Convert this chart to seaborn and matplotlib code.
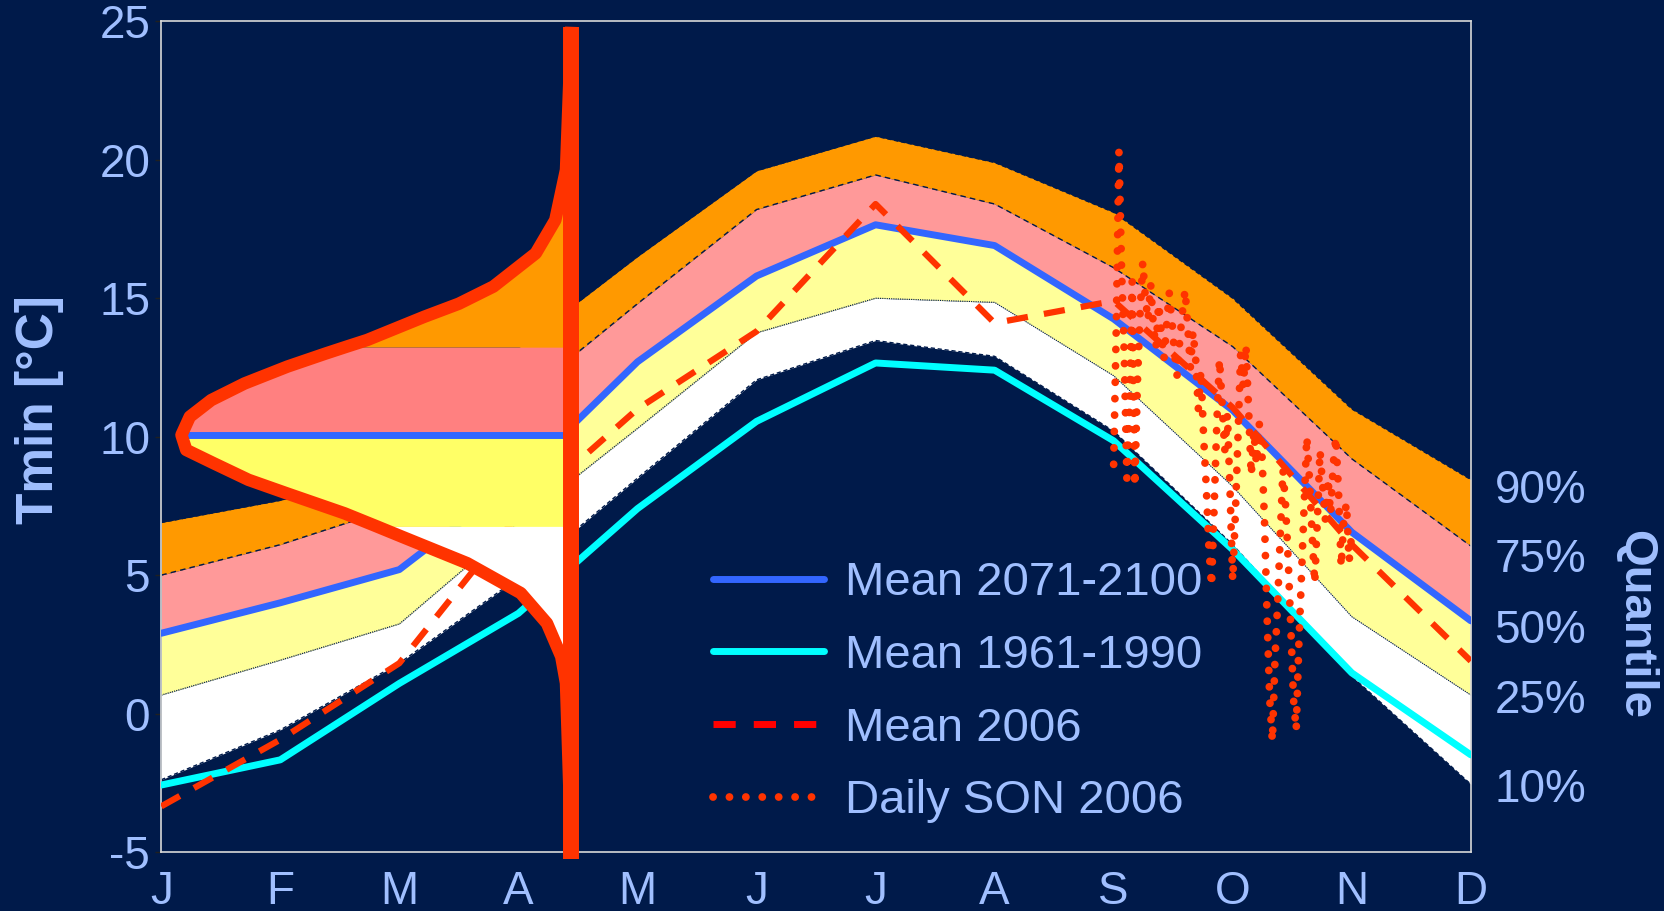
import numpy as np
import matplotlib
matplotlib.use("Agg")
import matplotlib.pyplot as plt
import seaborn as sns
from matplotlib.lines import Line2D

# ---------------- data ----------------
month_labels = ["J", "F", "M", "A", "M", "J", "J", "A", "S", "O", "N", "D"]

# quantile band boundaries of the 2071-2100 distribution (deg C), Jan..Dec
q90 = [6.9, 7.7, 8.8, 13.2, 16.5, 19.6, 20.85, 19.9, 18.1, 15.0, 11.0, 8.45]
q75 = [5.0, 6.1, 7.5, 11.3, 14.8, 18.2, 19.45, 18.4, 16.1, 13.25, 9.2, 6.05]
q50 = [2.85, 3.95, 5.15, 8.45, 12.65, 15.75, 17.6, 16.85, 14.2, 10.9, 6.5, 3.3]
q25 = [0.67, 1.93, 3.24, 6.9, 10.3, 13.75, 15.0, 14.85, 12.2, 8.2, 3.5, 0.67]
q10 = [-2.39, -0.59, 1.82, 4.9, 8.5, 12.05, 13.47, 12.9, 10.2, 6.1, 1.35, -2.55]

mean_2071_2100 = [2.9, 4.0, 5.2, 8.5, 12.7, 15.8, 17.65, 16.9, 14.25, 10.95, 6.55, 3.35]
mean_1961_1990 = [-2.58, -1.67, 1.09, 3.62, 7.4, 10.55, 12.66, 12.4, 9.85, 5.92, 1.47, -1.49]
mean_2006 = [-3.35, -0.94, 1.82, 7.2, 11.0, 13.8, 18.4, 14.1, 14.9, 11.05, 6.1, 1.9]

# daily minimum temperatures, autumn (SON) 2006
son_daily = [9.0, 14.0, 20.3, 16.0, 13.0, 8.5, 11.0, 15.6, 8.2, 12.0,
             14.5, 16.3, 15.0, 14.2, 15.5, 14.0, 13.2, 14.8, 13.8, 12.8,
             14.0, 15.2, 14.2, 13.0, 12.2, 13.5, 14.5, 15.3, 14.0, 12.5,
             13.8, 12.8, 11.0, 12.4, 10.0, 8.2, 6.0, 4.6, 7.5, 10.5,
             12.8, 11.2, 9.5, 10.8, 8.0, 4.8, 7.2, 10.0, 13.0, 11.8,
             13.3, 11.0, 8.6, 10.2, 9.0, 10.5, 9.5, 7.0, 3.5, 0.5,
             -1.0, 2.0, 4.0, 6.5, 8.8, 7.5, 5.5, 3.0, 0.5, -0.6,
             2.5, 5.0, 7.5, 10.0, 8.5, 6.5, 4.7, 7.0, 9.5, 8.2,
             7.0, 8.5, 7.2, 9.0, 10.0, 8.0, 5.3, 7.0, 7.6, 5.5, 6.5]

# sideways probability density curve (temperature, curve position in month units)
pdf_temp = [-5.0, 1.1, 2.06, 3.26, 4.35, 5.43, 6.39, 6.76, 7.23, 7.95, 8.44,
            9.04, 9.52, 10.06, 10.72, 11.32, 11.92, 12.53, 13.0, 13.24, 13.49,
            14.33, 14.8, 15.42, 16.62, 17.82, 19.63, 24.8]
pdf_curve = [3.445, 3.40, 3.36, 3.24, 3.02, 2.57, 2.02, 1.81, 1.54, 1.056, 0.733,
             0.44, 0.21, 0.17, 0.24, 0.42, 0.70, 1.06, 1.38, 1.55, 1.73,
             2.21, 2.5, 2.79, 3.146, 3.31, 3.40, 3.445]
pdf_base = 3.445          # vertical axis of the density curve (mid April)
pdf_cuts = [6.76, 10.06, 13.24]   # 25%, 50%, 75% of the density

quantile_labels = ["90%", "75%", "50%", "25%", "10%"]
quantile_pos = [8.22, 5.73, 3.16, 0.64, -2.58]

legend_labels = ["Mean 2071-2100", "Mean 1961-1990", "Mean 2006", "Daily SON 2006"]

# ---------------- style ----------------
BG = "#001A4A"
TXT = "#A0BFFF"
ORANGE = "#FF9900"
PINK = "#FF9999"
YELLOW = "#FFFF99"
PDF_PINK = "#FF8080"
PDF_YELLOW = "#FFFF66"
BLUE = "#3366FF"
CYAN = "#00FFFF"
RED = "#FF3300"
EDGE = "#001A4A"

sns.set_theme(style="white")
plt.rcParams["font.family"] = ["Liberation Sans", "DejaVu Sans"]
plt.rcParams["axes.unicode_minus"] = False

fig = plt.figure(figsize=(16.64, 9.11), dpi=100, facecolor=BG)
ax = fig.add_axes([0.0969, 0.0647, 0.8839 - 0.0969, 0.9767 - 0.0647])
ax.set_facecolor(BG)

x = np.arange(12)

# quantile bands
ax.fill_between(x, q75, q90, color=ORANGE, lw=0, zorder=1)
ax.fill_between(x, q50, q75, color=PINK, lw=0, zorder=1)
ax.fill_between(x, q25, q50, color=YELLOW, lw=0, zorder=1)
ax.fill_between(x, q10, q25, color="white", lw=0, zorder=1)
ax.plot(x, q90, color=EDGE, lw=1.0, ls=(0, (3, 2)), zorder=2)
ax.plot(x, q75, color=EDGE, lw=1.0, ls=(0, (4, 3)), zorder=2)
ax.plot(x, q25, color=EDGE, lw=0.8, ls=(0, (1, 1)), zorder=2)
ax.plot(x, q10, color=EDGE, lw=1.0, ls=(0, (3, 2)), zorder=2)

# mean lines
sns.lineplot(x=x, y=mean_1961_1990, color=CYAN, lw=5, ax=ax, zorder=3, legend=False)
sns.lineplot(x=x, y=mean_2071_2100, color=BLUE, lw=5, ax=ax, zorder=3, legend=False)
sns.lineplot(x=x, y=mean_2006, color=RED, lw=4.5, linestyle=(0, (3.4, 2.6)),
             ax=ax, zorder=3, legend=False)

# daily autumn values
son_x = 8 + np.arange(len(son_daily)) / 45.0
sns.lineplot(x=son_x, y=son_daily, color=RED, lw=5.6, linestyle=(0, (0.01, 2.1)),
             dash_capstyle="round", ax=ax, zorder=6, legend=False, sort=False)

# density curve, filled by quantile class
pt = np.array(pdf_temp)
pc = np.array(pdf_curve)
edges = [pt[0]] + pdf_cuts + [pt[-1]]
fills = ["white", PDF_YELLOW, PDF_PINK, ORANGE]
for (lo, hi), col in zip(zip(edges[:-1], edges[1:]), fills):
    m = (pt >= lo) & (pt <= hi)
    ax.fill_betweenx(pt[m], pc[m], pdf_base, color=col, lw=0, zorder=4)
med_left = pc[pt == pdf_cuts[1]][0]
ax.plot([med_left, pdf_base], [pdf_cuts[1], pdf_cuts[1]], color=BLUE, lw=5,
        solid_capstyle="butt", zorder=4.5)
ax.plot(pc, pt, color=RED, lw=9, solid_joinstyle="round",
        solid_capstyle="butt", zorder=5)
ax.plot([pdf_base, pdf_base], [-5.25, 24.8], color=RED, lw=11.5,
        solid_capstyle="butt", zorder=5.5, clip_on=False)

# axes
ax.set_xlim(0, 11)
ax.set_ylim(-5, 25)
ax.set_xticks(x)
ax.set_xticklabels(month_labels)
ax.set_yticks(np.arange(-5, 26, 5))
ax.grid(False)
for s in ax.spines.values():
    s.set_color("#D8D8D8")
    s.set_linewidth(1.2)
ax.tick_params(axis="both", colors="#202020", labelcolor=TXT, labelsize=33,
               length=4, width=1, direction="out")
ax.tick_params(axis="x", pad=9)
ax.tick_params(axis="y", pad=4)

# quantile labels on the right
ax2 = ax.twinx()
ax2.set_ylim(-5, 25)
ax2.set_yticks(quantile_pos)
ax2.set_yticklabels(quantile_labels)
ax2.tick_params(axis="y", length=0, pad=17, labelcolor=TXT, labelsize=33)
ax2.set_frame_on(False)
ax2.grid(False)

fig.text(0.0236, 0.55, "Tmin [°C]", rotation=90, ha="center", va="center",
         color=TXT, fontsize=37, fontweight="bold")
fig.text(0.9828, 0.315, "Quantile", rotation=-90, ha="center", va="center",
         color=TXT, fontsize=34, fontweight="bold")

# legend
handles = [
    Line2D([], [], color=BLUE, lw=5),
    Line2D([], [], color=CYAN, lw=5),
    Line2D([], [], color="#FF0000", lw=5, ls=(0, (3.2, 2.6))),
    Line2D([], [], color=RED, lw=5.6, ls=(0, (0.01, 2.1)), dash_capstyle="round"),
]
leg = ax.legend(handles, legend_labels, loc="center left",
                bbox_to_anchor=(0.4285, 0.2401), bbox_transform=fig.transFigure,
                frameon=False, fontsize=34, handlelength=2.35, handletextpad=0.45,
                labelspacing=0.61, borderpad=0, borderaxespad=0)
for t in leg.get_texts():
    t.set_color(TXT)
leg.set_zorder(10)

fig.savefig("out.png", dpi=100, facecolor=BG)
